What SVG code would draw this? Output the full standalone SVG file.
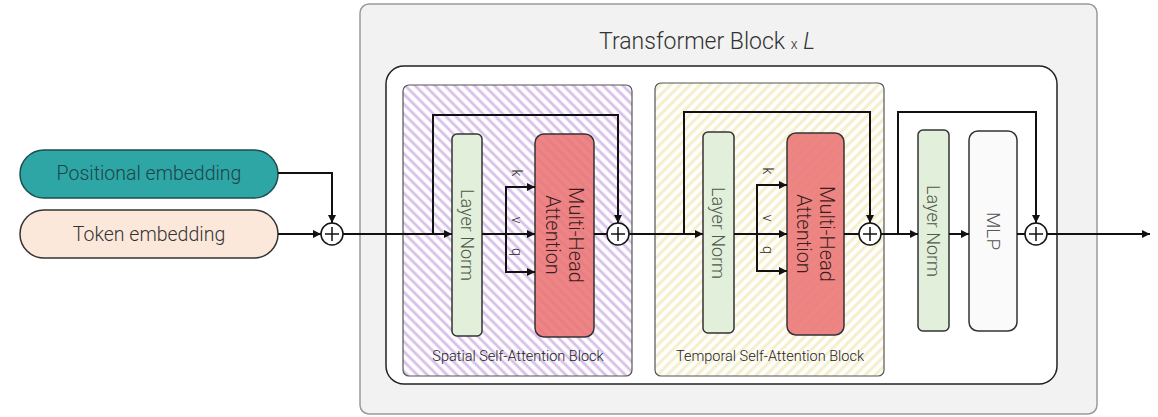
<svg xmlns="http://www.w3.org/2000/svg" width="1158" height="417" viewBox="0 0 1158 417">
<style>
  .t{font-family:Roboto,"Liberation Sans",sans-serif;font-weight:300}
  .conn{fill:none;stroke:#111;stroke-width:2}
  .plus circle{fill:#fff;stroke:#111;stroke-width:1.5}
  .plus path{stroke:#111;stroke-width:1.5}
  .ln{fill:#e2efda;stroke:#333;stroke-width:1.5}
  .mha{fill:#ea7474;fill-opacity:0.88;stroke:#333;stroke-width:1.5}
  .blk{stroke:#555;stroke-width:1.2}
</style>
<defs>
  <marker id="arr" viewBox="0 0 8 8" refX="8" refY="4" markerWidth="8" markerHeight="8" markerUnits="userSpaceOnUse" orient="auto">
    <path d="M0,0 L8,4 L0,8 z" fill="#111"/>
  </marker>
  <pattern id="hatchP" patternUnits="userSpaceOnUse" width="7" height="7" patternTransform="rotate(-45)">
    <rect width="7" height="7" fill="#fff"/>
    <line x1="2" y1="0" x2="2" y2="7" stroke="#d8bfea" stroke-width="2.8"/>
  </pattern>
  <pattern id="hatchT" patternUnits="userSpaceOnUse" width="7" height="7" patternTransform="rotate(45)">
    <rect width="7" height="7" fill="#fff"/>
    <line x1="2" y1="0" x2="2" y2="7" stroke="#f5eecb" stroke-width="3"/>
  </pattern>
</defs>

<g id="transformer-block">
  <rect x="360" y="4" width="737" height="410" rx="9" fill="#f2f2f2" stroke="#9a9a9a" stroke-width="1.5"/>
  <text class="t" x="707" y="49" text-anchor="middle" font-size="23" fill="#333" font-weight="400">Transformer Block <tspan font-size="14">x</tspan> <tspan font-style="italic">L</tspan></text>
  <rect x="386" y="66" width="671" height="318" rx="18" fill="#fff" stroke="#222" stroke-width="1.5"/>
</g>

<g id="spatial-block">
  <rect class="blk" x="403" y="85" width="229" height="291" rx="6" fill="url(#hatchP)"/>
  <text class="t" x="518" y="361" text-anchor="middle" font-size="14.5" fill="#222" font-weight="400">Spatial Self-Attention Block</text>
</g>
<g id="temporal-block">
  <rect class="blk" x="655" y="83" width="229" height="293" rx="6" fill="url(#hatchT)"/>
  <text class="t" x="770" y="361" text-anchor="middle" font-size="14.5" fill="#222" font-weight="400">Temporal Self-Attention Block</text>
</g>

<g id="positional-embedding">
  <rect x="20" y="150" width="258" height="48" rx="24" fill="#2ea6a6" stroke="#1d4d4d" stroke-width="1.5"/>
  <text class="t" x="149" y="180" text-anchor="middle" font-size="19.5" fill="#1c4446">Positional embedding</text>
</g>
<g id="token-embedding">
  <rect x="20" y="210" width="258" height="48" rx="24" fill="#fce8da" stroke="#333" stroke-width="1.5"/>
  <text class="t" x="149" y="241" text-anchor="middle" font-size="19.5" fill="#333">Token embedding</text>
</g>

<g id="ln1">
  <rect class="ln" x="452" y="134" width="30" height="202" rx="5"/>
  <text class="t" transform="translate(467,235) rotate(90)" text-anchor="middle" dominant-baseline="central" font-size="18" fill="#4f584b">Layer Norm</text>
</g>
<g id="mha1">
  <rect class="mha" x="535" y="134" width="59" height="203" rx="9"/>
  <text class="t" transform="translate(564,235) rotate(90)" text-anchor="middle" font-size="20" fill="#3d1c1c"><tspan x="0" y="-5">Multi-Head</tspan><tspan x="0" y="18">Attention</tspan></text>
</g>
<g id="ln2">
  <rect class="ln" x="703" y="132" width="31" height="201" rx="5"/>
  <text class="t" transform="translate(718,233) rotate(90)" text-anchor="middle" dominant-baseline="central" font-size="18" fill="#4f584b">Layer Norm</text>
</g>
<g id="mha2">
  <rect class="mha" x="787" y="133" width="57" height="202" rx="9"/>
  <text class="t" transform="translate(815,234) rotate(90)" text-anchor="middle" font-size="20" fill="#3d1c1c"><tspan x="0" y="-5">Multi-Head</tspan><tspan x="0" y="18">Attention</tspan></text>
</g>
<g id="ln3">
  <rect class="ln" x="918" y="130" width="31" height="201" rx="5"/>
  <text class="t" transform="translate(933,231) rotate(90)" text-anchor="middle" dominant-baseline="central" font-size="18" fill="#4f584b">Layer Norm</text>
</g>
<g id="mlp">
  <rect x="969" y="131" width="48" height="200" rx="9" fill="#fafafa" stroke="#333" stroke-width="1.5"/>
  <text class="t" transform="translate(993,231) rotate(90)" text-anchor="middle" dominant-baseline="central" font-size="19" fill="#555">MLP</text>
</g>

<g id="qkv-labels" class="t" font-size="14" fill="#222" font-weight="400">
  <text transform="translate(517,173) rotate(90)" text-anchor="middle" dominant-baseline="central">k</text>
  <text transform="translate(517,220) rotate(90)" text-anchor="middle" dominant-baseline="central">v</text>
  <text transform="translate(517,252) rotate(90)" text-anchor="middle" dominant-baseline="central">q</text>
  <text transform="translate(768,171) rotate(90)" text-anchor="middle" dominant-baseline="central">k</text>
  <text transform="translate(768,218) rotate(90)" text-anchor="middle" dominant-baseline="central">v</text>
  <text transform="translate(768,250) rotate(90)" text-anchor="middle" dominant-baseline="central">q</text>
</g>

<g id="connectors">
  <path class="conn" d="M278,173 H332 V223" marker-end="url(#arr)"/>
  <path class="conn" d="M278,234 H321" marker-end="url(#arr)"/>
  <path class="conn" d="M343,234 H452" marker-end="url(#arr)"/>
  <path class="conn" d="M433,234 V115 H618 V223" marker-end="url(#arr)"/>
  <path class="conn" d="M482,234 H535" marker-end="url(#arr)"/>
  <path class="conn" d="M506,234 V187 H535" marker-end="url(#arr)"/>
  <path class="conn" d="M506,234 V272 H535" marker-end="url(#arr)"/>
  <path class="conn" d="M594,234 H607"/>
  <path class="conn" d="M629,234 H703" marker-end="url(#arr)"/>
  <path class="conn" d="M684,234 V112 H870 V223" marker-end="url(#arr)"/>
  <path class="conn" d="M734,234 H787" marker-end="url(#arr)"/>
  <path class="conn" d="M757,234 V185 H787" marker-end="url(#arr)"/>
  <path class="conn" d="M757,234 V271 H787" marker-end="url(#arr)"/>
  <path class="conn" d="M844,234 H859"/>
  <path class="conn" d="M881,234 H918" marker-end="url(#arr)"/>
  <path class="conn" d="M898,234 V112 H1036 V223" marker-end="url(#arr)"/>
  <path class="conn" d="M949,234 H969" marker-end="url(#arr)"/>
  <path class="conn" d="M1017,234 H1025"/>
  <path class="conn" d="M1047,234 H1150" marker-end="url(#arr)"/>
</g>

<g id="add1" class="plus"><circle cx="332" cy="234" r="11"/><path d="M325,234 H339 M332,227 V241"/></g>
<g id="add2" class="plus"><circle cx="618" cy="234" r="11"/><path d="M611,234 H625 M618,227 V241"/></g>
<g id="add3" class="plus"><circle cx="870" cy="234" r="11"/><path d="M863,234 H877 M870,227 V241"/></g>
<g id="add4" class="plus"><circle cx="1036" cy="234" r="11"/><path d="M1029,234 H1043 M1036,227 V241"/></g>
</svg>
